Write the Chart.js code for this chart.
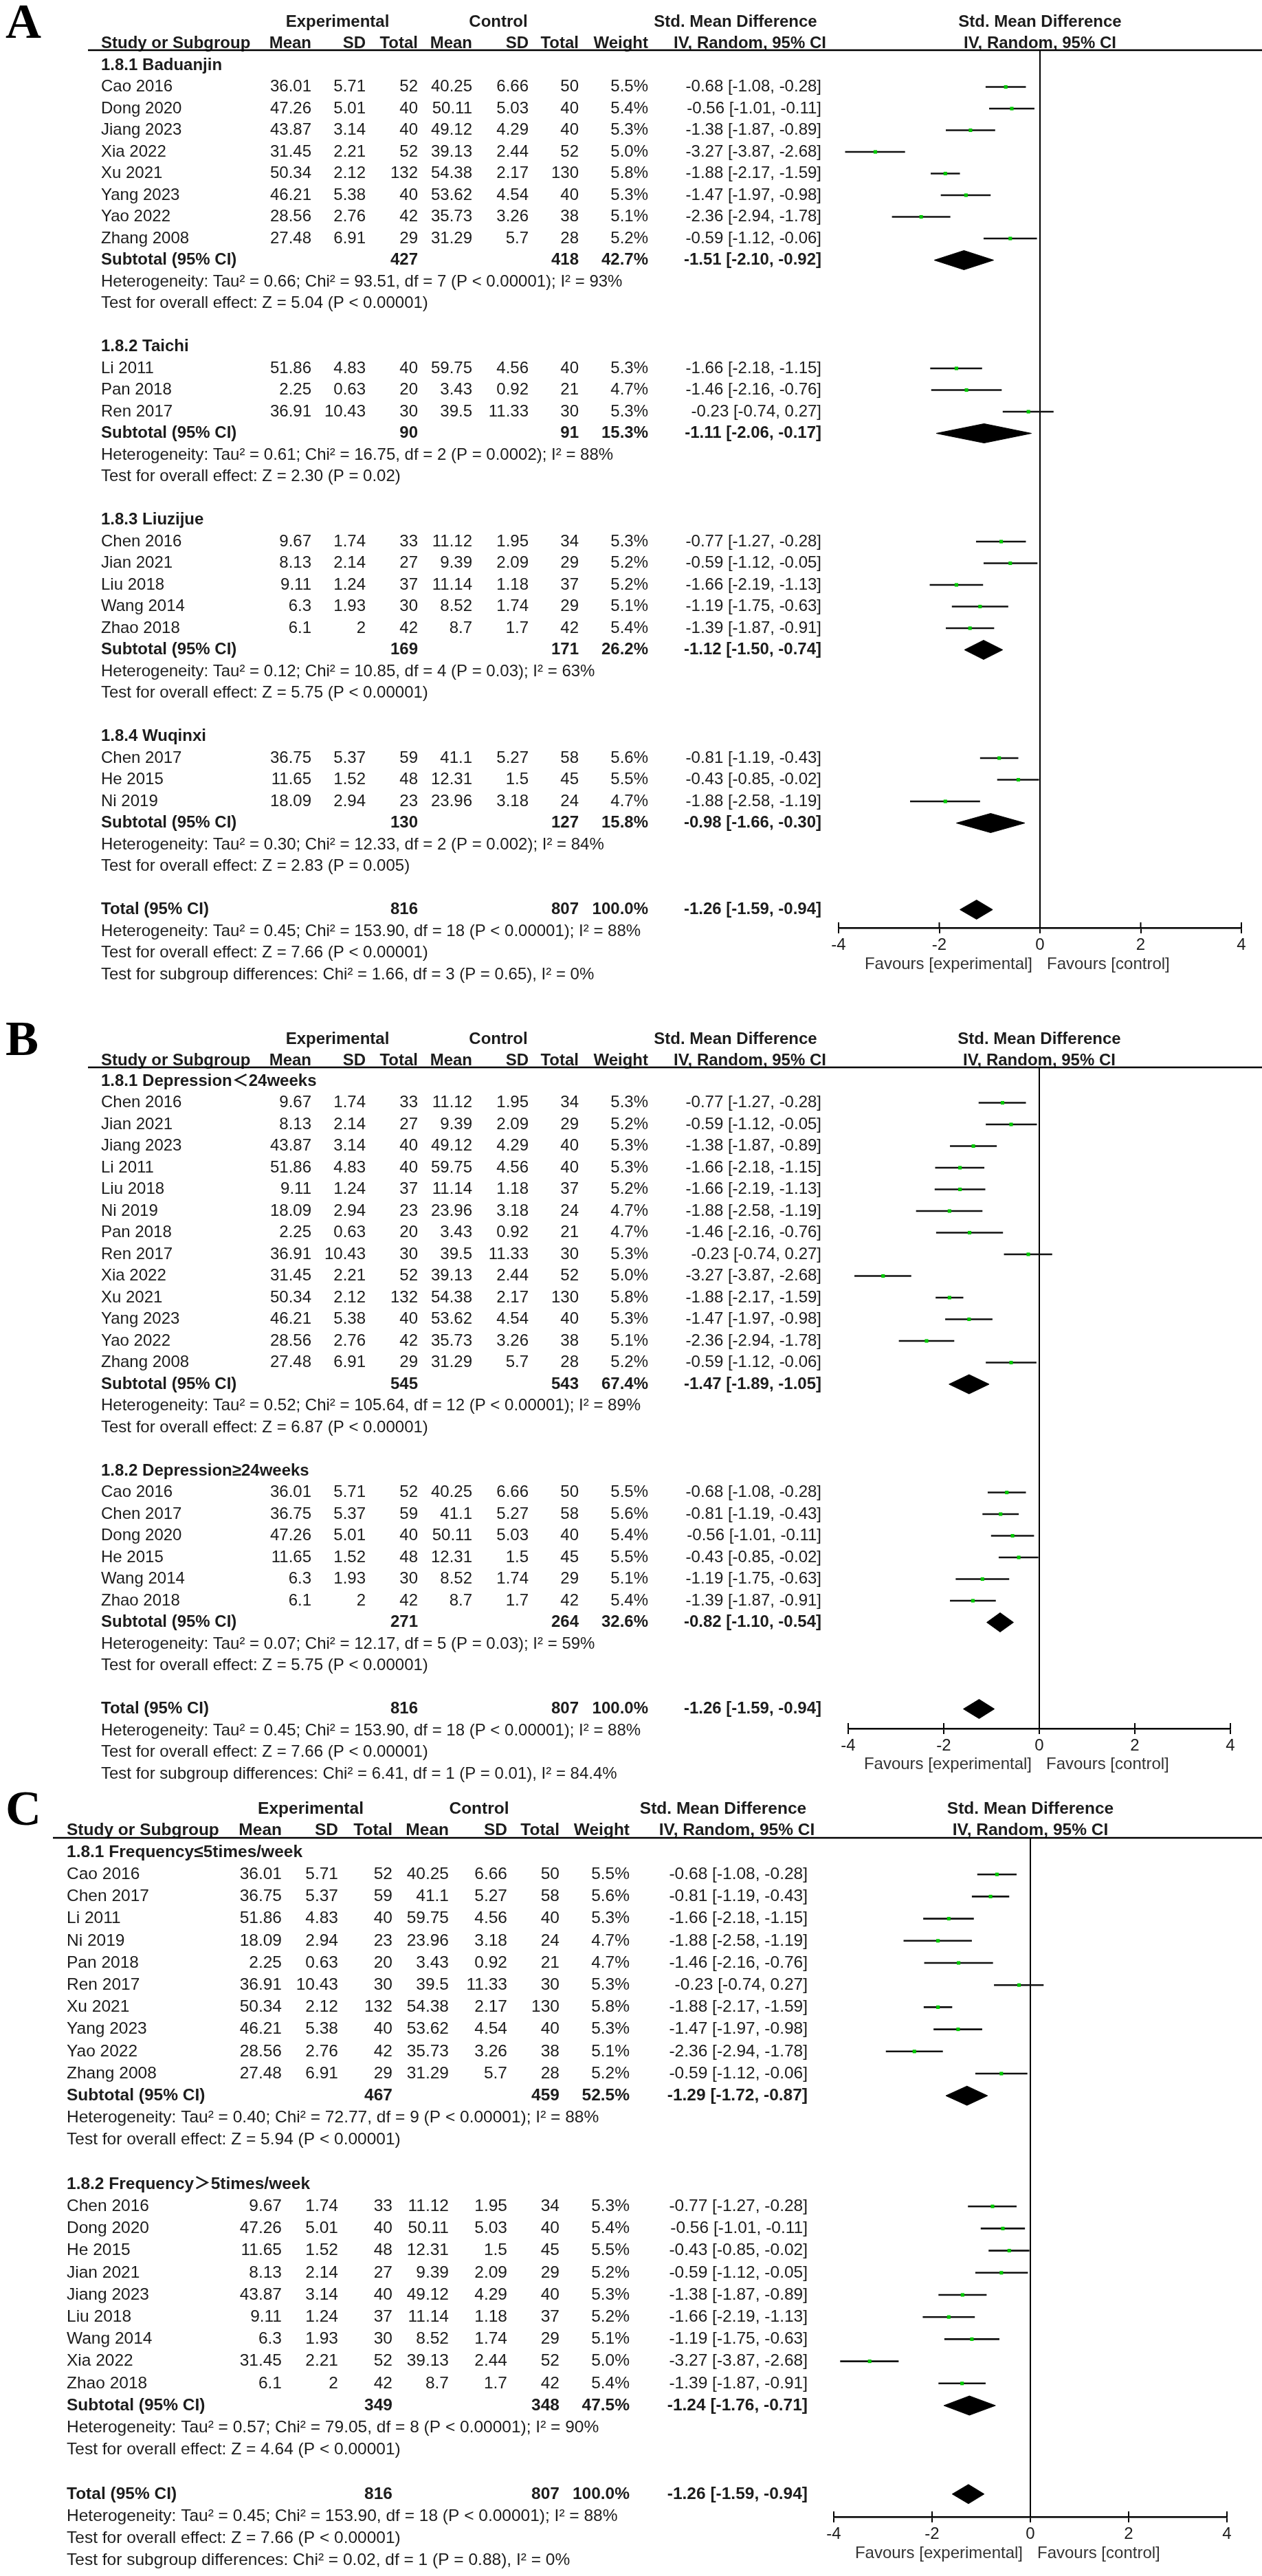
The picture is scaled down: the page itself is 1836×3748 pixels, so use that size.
<!DOCTYPE html>
<html lang="en">
<head>
<meta charset="UTF-8">
<title>Forest plots A-C</title>
<script src="https://cdn.jsdelivr.net/npm/chart.js"></script>
<style>
  body { margin: 0; background: #fff; }
  #page { position: relative; width: 1836px; height: 3748px; overflow: hidden; background: #fff; }
  canvas { position: absolute; left: 0; }
</style>
</head>
<body>
<div id="page">
  <canvas id="panelA"></canvas>
  <canvas id="panelB"></canvas>
  <canvas id="panelC"></canvas>
</div>
<script>
// ---- study level data (same numbers in all three panels) ----
const studyNames = ['Cao 2016', 'Dong 2020', 'Jiang 2023', 'Xia 2022', 'Xu 2021', 'Yang 2023', 'Yao 2022', 'Zhang 2008',
  'Li 2011', 'Pan 2018', 'Ren 2017', 'Chen 2016', 'Jian 2021', 'Liu 2018', 'Wang 2014', 'Zhao 2018',
  'Chen 2017', 'He 2015', 'Ni 2019'];
const expMean = [36.01, 47.26, 43.87, 31.45, 50.34, 46.21, 28.56, 27.48, 51.86, 2.25, 36.91, 9.67, 8.13, 9.11, 6.3, 6.1, 36.75, 11.65, 18.09];
const expSD = [5.71, 5.01, 3.14, 2.21, 2.12, 5.38, 2.76, 6.91, 4.83, 0.63, 10.43, 1.74, 2.14, 1.24, 1.93, 2, 5.37, 1.52, 2.94];
const expN = [52, 40, 40, 52, 132, 40, 42, 29, 40, 20, 30, 33, 27, 37, 30, 42, 59, 48, 23];
const ctlMean = [40.25, 50.11, 49.12, 39.13, 54.38, 53.62, 35.73, 31.29, 59.75, 3.43, 39.5, 11.12, 9.39, 11.14, 8.52, 8.7, 41.1, 12.31, 23.96];
const ctlSD = [6.66, 5.03, 4.29, 2.44, 2.17, 4.54, 3.26, 5.7, 4.56, 0.92, 11.33, 1.95, 2.09, 1.18, 1.74, 1.7, 5.27, 1.5, 3.18];
const ctlN = [50, 40, 40, 52, 130, 40, 38, 28, 40, 21, 30, 34, 29, 37, 29, 42, 58, 45, 24];
const weight = [5.5, 5.4, 5.3, 5.0, 5.8, 5.3, 5.1, 5.2, 5.3, 4.7, 5.3, 5.3, 5.2, 5.2, 5.1, 5.4, 5.6, 5.5, 4.7];
const smd = [-0.68, -0.56, -1.38, -3.27, -1.88, -1.47, -2.36, -0.59, -1.66, -1.46, -0.23, -0.77, -0.59, -1.66, -1.19, -1.39, -0.81, -0.43, -1.88];
const ciLow = [-1.08, -1.01, -1.87, -3.87, -2.17, -1.97, -2.94, -1.12, -2.18, -2.16, -0.74, -1.27, -1.12, -2.19, -1.75, -1.87, -1.19, -0.85, -2.58];
const ciHigh = [-0.28, -0.11, -0.89, -2.68, -1.59, -0.98, -1.78, -0.06, -1.15, -0.76, 0.27, -0.28, -0.05, -1.13, -0.63, -0.91, -0.43, -0.02, -1.19];

// ---- panel A: by exercise type ----
const groupTitlesA = ['1.8.1 Baduanjin', '1.8.2 Taichi', '1.8.3 Liuzijue', '1.8.4 Wuqinxi'];
const groupStudiesA = [
  ['Cao 2016', 'Dong 2020', 'Jiang 2023', 'Xia 2022', 'Xu 2021', 'Yang 2023', 'Yao 2022', 'Zhang 2008'],
  ['Li 2011', 'Pan 2018', 'Ren 2017'],
  ['Chen 2016', 'Jian 2021', 'Liu 2018', 'Wang 2014', 'Zhao 2018'],
  ['Chen 2017', 'He 2015', 'Ni 2019']
];
const subExpNA = [427, 90, 169, 130];
const subCtlNA = [418, 91, 171, 127];
const subWeightA = [42.7, 15.3, 26.2, 15.8];
const subSmdA = [-1.51, -1.11, -1.12, -0.98];
const subLowA = [-2.10, -2.06, -1.50, -1.66];
const subHighA = [-0.92, -0.17, -0.74, -0.30];
const subHetA = [
  'Heterogeneity: Tau² = 0.66; Chi² = 93.51, df = 7 (P < 0.00001); I² = 93%',
  'Heterogeneity: Tau² = 0.61; Chi² = 16.75, df = 2 (P = 0.0002); I² = 88%',
  'Heterogeneity: Tau² = 0.12; Chi² = 10.85, df = 4 (P = 0.03); I² = 63%',
  'Heterogeneity: Tau² = 0.30; Chi² = 12.33, df = 2 (P = 0.002); I² = 84%'
];
const subTestA = [
  'Test for overall effect: Z = 5.04 (P < 0.00001)',
  'Test for overall effect: Z = 2.30 (P = 0.02)',
  'Test for overall effect: Z = 5.75 (P < 0.00001)',
  'Test for overall effect: Z = 2.83 (P = 0.005)'
];
const subgroupTestA = 'Test for subgroup differences: Chi² = 1.66, df = 3 (P = 0.65), I² = 0%';

// ---- panel B: by duration ----
const groupTitlesB = ['1.8.1 Depression＜24weeks', '1.8.2 Depression≥24weeks'];
const groupStudiesB = [
  ['Chen 2016', 'Jian 2021', 'Jiang 2023', 'Li 2011', 'Liu 2018', 'Ni 2019', 'Pan 2018', 'Ren 2017', 'Xia 2022', 'Xu 2021', 'Yang 2023', 'Yao 2022', 'Zhang 2008'],
  ['Cao 2016', 'Chen 2017', 'Dong 2020', 'He 2015', 'Wang 2014', 'Zhao 2018']
];
const subExpNB = [545, 271];
const subCtlNB = [543, 264];
const subWeightB = [67.4, 32.6];
const subSmdB = [-1.47, -0.82];
const subLowB = [-1.89, -1.10];
const subHighB = [-1.05, -0.54];
const subHetB = [
  'Heterogeneity: Tau² = 0.52; Chi² = 105.64, df = 12 (P < 0.00001); I² = 89%',
  'Heterogeneity: Tau² = 0.07; Chi² = 12.17, df = 5 (P = 0.03); I² = 59%'
];
const subTestB = [
  'Test for overall effect: Z = 6.87 (P < 0.00001)',
  'Test for overall effect: Z = 5.75 (P < 0.00001)'
];
const subgroupTestB = 'Test for subgroup differences: Chi² = 6.41, df = 1 (P = 0.01), I² = 84.4%';

// ---- panel C: by frequency ----
const groupTitlesC = ['1.8.1 Frequency≤5times/week', '1.8.2 Frequency＞5times/week'];
const groupStudiesC = [
  ['Cao 2016', 'Chen 2017', 'Li 2011', 'Ni 2019', 'Pan 2018', 'Ren 2017', 'Xu 2021', 'Yang 2023', 'Yao 2022', 'Zhang 2008'],
  ['Chen 2016', 'Dong 2020', 'He 2015', 'Jian 2021', 'Jiang 2023', 'Liu 2018', 'Wang 2014', 'Xia 2022', 'Zhao 2018']
];
const subExpNC = [467, 349];
const subCtlNC = [459, 348];
const subWeightC = [52.5, 47.5];
const subSmdC = [-1.29, -1.24];
const subLowC = [-1.72, -1.76];
const subHighC = [-0.87, -0.71];
const subHetC = [
  'Heterogeneity: Tau² = 0.40; Chi² = 72.77, df = 9 (P < 0.00001); I² = 88%',
  'Heterogeneity: Tau² = 0.57; Chi² = 79.05, df = 8 (P < 0.00001); I² = 90%'
];
const subTestC = [
  'Test for overall effect: Z = 5.94 (P < 0.00001)',
  'Test for overall effect: Z = 4.64 (P < 0.00001)'
];
const subgroupTestC = 'Test for subgroup differences: Chi² = 0.02, df = 1 (P = 0.88), I² = 0%';

// ---- overall ----
const totalExpN = 816;
const totalCtlN = 807;
const totalWeight = 100.0;
const totalSmd = -1.26;
const totalLow = -1.59;
const totalHigh = -0.94;
const totalHet = 'Heterogeneity: Tau² = 0.45; Chi² = 153.90, df = 18 (P < 0.00001); I² = 88%';
const totalTest = 'Test for overall effect: Z = 7.66 (P < 0.00001)';

const axisTicks = [-4, -2, 0, 2, 4];
const axisTickLabels = ['-4', '-2', '0', '2', '4'];
const favourLabels = ['Favours [experimental]', 'Favours [control]'];

// ---- layout (page pixels) ----
const PAGE_W = 1836;
const FONT = '"Liberation Sans", Arial, "DejaVu Sans", "Noto Sans CJK SC", sans-serif';
const TEXT = '#1c1c1c';
const GREEN = '#00c800';
const AXIS_H = 60;

const colsAB = { study: 147, expMean: 453, expSD: 532, expN: 608, ctlMean: 687, ctlSD: 769, ctlN: 842,
  weight: 943, ci: 1195, expHead: 491, ctlHead: 725, smdHead: 1070, ivHead: 1091, rule: 128 };
const colsC = { study: 97, expMean: 410, expSD: 492, expN: 571, ctlMean: 653, ctlSD: 738, ctlN: 814,
  weight: 916, ci: 1175, expHead: 452, ctlHead: 697, smdHead: 1052, ivHead: 1072, rule: 77 };

const layoutA = { letter: 'A', top: 0, height: 1445, letterBase: 55, h1: 32, h2: 63, rule: 73,
  row0: 95, step: 31.5, axis: 1350, fav: 1403, zero: 1513, unit: 73.25, size: 24 };
const layoutB = { letter: 'B', top: 1445, height: 1155, letterBase: 1535, h1: 1512, h2: 1543, rule: 1553,
  row0: 1573, step: 31.5, axis: 2515, fav: 2567, zero: 1512, unit: 69.5, size: 24 };
const layoutC = { letter: 'C', top: 2600, height: 1148, letterBase: 2655, h1: 2632, h2: 2663, rule: 2674,
  row0: 2695, step: 32.2, axis: 3662, fav: 3715, zero: 1499, unit: 71.5, size: 24.5 };

const f2 = v => v.toFixed(2);
const ciText = (e, lo, hi) => f2(e) + ' [' + f2(lo) + ', ' + f2(hi) + ']';

function put(ctx, s, x, y, align, bold, size, color) {
  ctx.font = (bold ? 'bold ' : '') + size + 'px ' + FONT;
  ctx.textAlign = align;
  ctx.textBaseline = 'middle';
  ctx.fillStyle = color || TEXT;
  ctx.fillText(s, x, y);
}

function buildPanel(id, L, cols, titles, members, sub, subgroupTest) {
  const canvas = document.getElementById(id);
  canvas.width = PAGE_W;
  canvas.height = L.height;
  canvas.style.top = L.top + 'px';
  canvas.style.width = PAGE_W + 'px';
  canvas.style.height = L.height + 'px';
  const py = v => v - L.top;

  // row plan: group title, studies, subtotal, two notes, blank ... then total block
  const rows = [];
  let r = 0;
  titles.forEach((t, g) => {
    rows.push({ kind: 'group', r: r++, text: t });
    members[g].forEach(n => rows.push({ kind: 'study', r: r++, i: studyNames.indexOf(n) }));
    rows.push({ kind: 'subtotal', r: r++, g: g });
    rows.push({ kind: 'note', r: r++, text: sub.het[g] });
    rows.push({ kind: 'note', r: r++, text: sub.test[g] });
    r++;
  });
  const totalRow = r;
  rows.push({ kind: 'total', r: r++ });
  rows.push({ kind: 'note', r: r++, text: totalHet });
  rows.push({ kind: 'note', r: r++, text: totalTest });
  rows.push({ kind: 'note', r: r++, text: subgroupTest });

  const xLeft = L.zero + axisTicks[0] * L.unit;
  const xRight = L.zero + axisTicks[axisTicks.length - 1] * L.unit;
  const yMin = (L.rule - L.row0) / L.step;
  const yMax = (L.axis - L.row0) / L.step;
  const hh = 14 / L.step;   // diamond half height in row units

  const studyRows = rows.filter(o => o.kind === 'study');
  const datasets = [];
  datasets.push({
    type: 'scatter',
    data: studyRows.map(o => ({ x: smd[o.i], y: o.r })),
    pointStyle: 'rect', pointRadius: 3.6, pointBackgroundColor: GREEN,
    pointBorderWidth: 0, order: 0
  });
  studyRows.forEach(o => datasets.push({
    type: 'line',
    data: [{ x: ciLow[o.i], y: o.r }, { x: ciHigh[o.i], y: o.r }],
    borderColor: '#111', borderWidth: 2.6, pointRadius: 0, fill: false, order: 1
  }));
  const diamond = (e, lo, hi, y) => ({
    type: 'line',
    data: [{ x: lo, y: y }, { x: e, y: y - hh }, { x: hi, y: y }, { x: e, y: y + hh }, { x: lo, y: y }],
    borderColor: '#000', borderWidth: 1, backgroundColor: '#000', fill: 'shape',
    pointRadius: 0, tension: 0, order: 1
  });
  rows.filter(o => o.kind === 'subtotal').forEach(o =>
    datasets.push(diamond(sub.smd[o.g], sub.low[o.g], sub.high[o.g], o.r)));
  datasets.push(diamond(totalSmd, totalLow, totalHigh, totalRow));

  const sz = L.size;
  const tablePlugin = {
    id: 'table' + id,
    afterDraw(chart) {
      const ctx = chart.ctx;
      const xs = chart.scales.x, ys = chart.scales.y;
      const zx = xs.getPixelForValue(0);
      ctx.save();

      ctx.font = 'bold 72px "Liberation Serif", "Times New Roman", serif';
      ctx.fillStyle = '#000';
      ctx.textAlign = 'left';
      ctx.textBaseline = 'alphabetic';
      ctx.fillText(L.letter, 8, py(L.letterBase));

      // headers
      put(ctx, 'Experimental', cols.expHead, py(L.h1), 'center', true, sz);
      put(ctx, 'Control', cols.ctlHead, py(L.h1), 'center', true, sz);
      put(ctx, 'Std. Mean Difference', cols.smdHead, py(L.h1), 'center', true, sz);
      put(ctx, 'Std. Mean Difference', zx, py(L.h1), 'center', true, sz);
      const h2 = py(L.h2);
      put(ctx, 'Study or Subgroup', cols.study, h2, 'left', true, sz);
      put(ctx, 'Mean', cols.expMean, h2, 'right', true, sz);
      put(ctx, 'SD', cols.expSD, h2, 'right', true, sz);
      put(ctx, 'Total', cols.expN, h2, 'right', true, sz);
      put(ctx, 'Mean', cols.ctlMean, h2, 'right', true, sz);
      put(ctx, 'SD', cols.ctlSD, h2, 'right', true, sz);
      put(ctx, 'Total', cols.ctlN, h2, 'right', true, sz);
      put(ctx, 'Weight', cols.weight, h2, 'right', true, sz);
      put(ctx, 'IV, Random, 95% CI', cols.ivHead, h2, 'center', true, sz);
      put(ctx, 'IV, Random, 95% CI', zx, h2, 'center', true, sz);

      ctx.strokeStyle = '#000';
      ctx.lineWidth = 2.6;
      ctx.beginPath();
      ctx.moveTo(cols.rule, chart.chartArea.top);
      ctx.lineTo(PAGE_W, chart.chartArea.top);
      ctx.stroke();

      rows.forEach(o => {
        const y = ys.getPixelForValue(o.r);
        if (o.kind === 'group') {
          put(ctx, o.text, cols.study, y, 'left', true, sz);
        } else if (o.kind === 'note') {
          put(ctx, o.text, cols.study, y, 'left', false, sz);
        } else if (o.kind === 'study') {
          const i = o.i;
          put(ctx, studyNames[i], cols.study, y, 'left', false, sz);
          put(ctx, String(expMean[i]), cols.expMean, y, 'right', false, sz);
          put(ctx, String(expSD[i]), cols.expSD, y, 'right', false, sz);
          put(ctx, String(expN[i]), cols.expN, y, 'right', false, sz);
          put(ctx, String(ctlMean[i]), cols.ctlMean, y, 'right', false, sz);
          put(ctx, String(ctlSD[i]), cols.ctlSD, y, 'right', false, sz);
          put(ctx, String(ctlN[i]), cols.ctlN, y, 'right', false, sz);
          put(ctx, weight[i].toFixed(1) + '%', cols.weight, y, 'right', false, sz);
          put(ctx, ciText(smd[i], ciLow[i], ciHigh[i]), cols.ci, y, 'right', false, sz);
        } else {
          const isSub = o.kind === 'subtotal';
          const g = o.g;
          put(ctx, isSub ? 'Subtotal (95% CI)' : 'Total (95% CI)', cols.study, y, 'left', true, sz);
          put(ctx, String(isSub ? sub.expN[g] : totalExpN), cols.expN, y, 'right', true, sz);
          put(ctx, String(isSub ? sub.ctlN[g] : totalCtlN), cols.ctlN, y, 'right', true, sz);
          put(ctx, (isSub ? sub.weight[g] : totalWeight).toFixed(1) + '%', cols.weight, y, 'right', true, sz);
          put(ctx, isSub ? ciText(sub.smd[g], sub.low[g], sub.high[g]) : ciText(totalSmd, totalLow, totalHigh),
            cols.ci, y, 'right', true, sz);
        }
      });

      // upper half of the axis tick marks
      const ay = xs.top;
      ctx.lineWidth = 2;
      xs.ticks.forEach(t => {
        const px = xs.getPixelForValue(t.value);
        ctx.beginPath();
        ctx.moveTo(px, ay - 8);
        ctx.lineTo(px, ay);
        ctx.stroke();
      });

      put(ctx, favourLabels[0], zx - 11, py(L.fav), 'right', false, 24, '#333');
      put(ctx, favourLabels[1], zx + 10, py(L.fav), 'left', false, 24, '#333');
      ctx.restore();
    }
  };

  return new Chart(canvas, {
    type: 'scatter',
    data: { datasets: datasets },
    options: {
      responsive: false,
      animation: false,
      devicePixelRatio: 1,
      events: [],
      layout: {
        padding: {
          left: xLeft,
          right: PAGE_W - xRight,
          top: py(L.rule),
          bottom: L.height - py(L.axis) - AXIS_H
        }
      },
      plugins: { legend: { display: false }, tooltip: { enabled: false }, title: { display: false } },
      scales: {
        x: {
          type: 'linear', min: axisTicks[0], max: axisTicks[axisTicks.length - 1], position: 'bottom',
          afterFit: s => { s.height = AXIS_H; },
          afterBuildTicks: s => { s.ticks = axisTicks.map(v => ({ value: v })); },
          border: { display: true, color: '#000', width: 2.6 },
          grid: {
            display: true, drawOnChartArea: true, drawTicks: true, tickLength: 8,
            color: c => (c.tick && c.tick.value === 0) ? '#000' : 'rgba(0,0,0,0)',
            lineWidth: 2, tickColor: '#000', tickWidth: 2
          },
          ticks: {
            autoSkip: false, maxRotation: 0, minRotation: 0, padding: 3, color: '#1c1c1c',
            font: { family: FONT, size: 24 },
            callback: v => axisTickLabels[axisTicks.indexOf(v)]
          }
        },
        y: { type: 'linear', display: false, reverse: true, min: yMin, max: yMax }
      }
    },
    plugins: [tablePlugin]
  });
}

buildPanel('panelA', layoutA, colsAB, groupTitlesA, groupStudiesA, {
  expN: subExpNA, ctlN: subCtlNA, weight: subWeightA, smd: subSmdA, low: subLowA, high: subHighA,
  het: subHetA, test: subTestA }, subgroupTestA);
buildPanel('panelB', layoutB, colsAB, groupTitlesB, groupStudiesB, {
  expN: subExpNB, ctlN: subCtlNB, weight: subWeightB, smd: subSmdB, low: subLowB, high: subHighB,
  het: subHetB, test: subTestB }, subgroupTestB);
buildPanel('panelC', layoutC, colsC, groupTitlesC, groupStudiesC, {
  expN: subExpNC, ctlN: subCtlNC, weight: subWeightC, smd: subSmdC, low: subLowC, high: subHighC,
  het: subHetC, test: subTestC }, subgroupTestC);
</script>
</body>
</html>
